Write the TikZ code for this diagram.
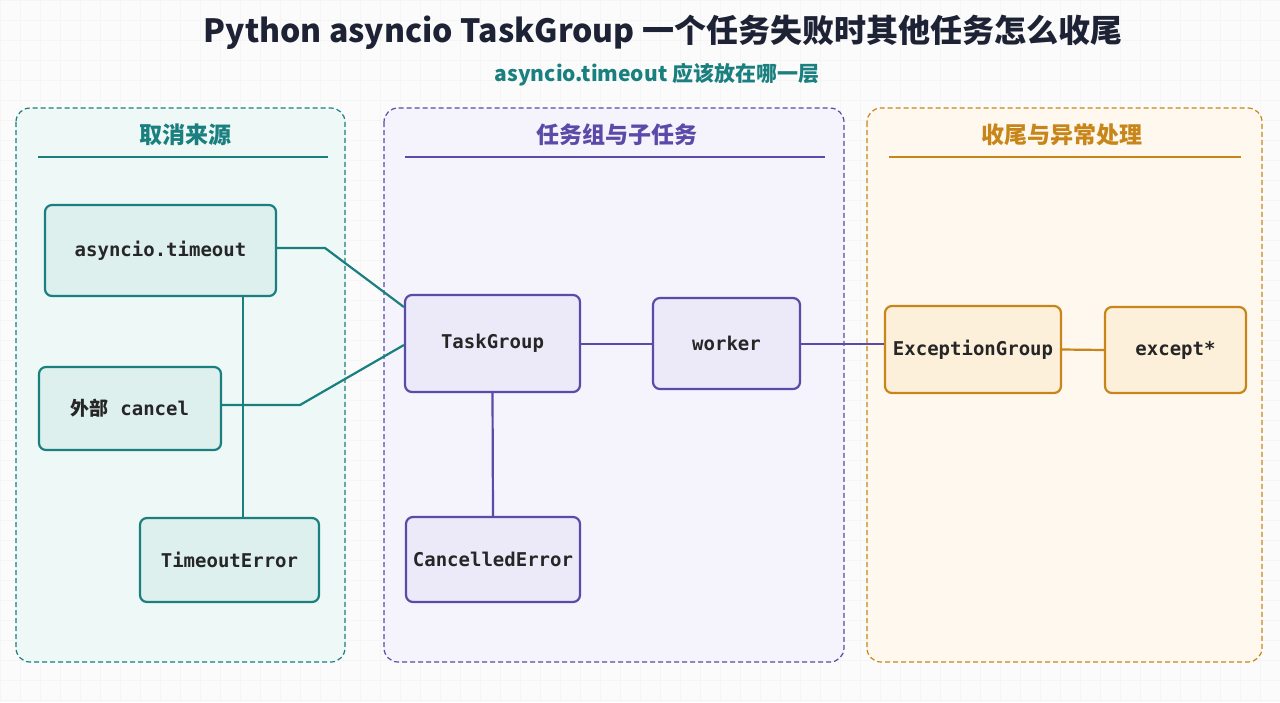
\documentclass[tikz,border=0pt]{standalone}
\usepackage{fontspec}
\setmainfont{Noto Sans CJK SC}
\newfontfamily\cjk{Noto Sans CJK SC}
\newfontfamily\monof{DejaVu Sans Mono}
\definecolor{tl}{HTML}{1A7F7F}\definecolor{tlf}{HTML}{DDF0EE}\definecolor{tlb}{HTML}{EEF8F7}
\definecolor{pu}{HTML}{5B4AA8}\definecolor{puf}{HTML}{ECE9F9}\definecolor{pub}{HTML}{F5F3FC}
\definecolor{og}{HTML}{C8861A}\definecolor{ogf}{HTML}{FDF0DB}\definecolor{ogb}{HTML}{FEF8EE}
\definecolor{ttl}{HTML}{1E2235}
\begin{document}
\begin{tikzpicture}[x=1pt,y=-1pt,
 panel/.style={draw=#1,dash pattern=on 5pt off 3pt,rounded corners=14pt,line width=1.2pt},
 box/.style={draw=#1,rounded corners=7pt,line width=2.2pt,font=\monof\bfseries\fontsize{19}{21}\selectfont,text=black!85},
 head/.style={font=\cjk\bfseries\fontsize{23}{25}\selectfont},
 conn/.style={line width=2.2pt}]
\useasboundingbox (0,0) rectangle (1280,702);
\fill[white!97!gray] (0,0) rectangle (1280,702);
\foreach \i in {0,20,...,1280}\draw[black!4] (\i,0)--(\i,702);
\foreach \j in {0,20,...,700}\draw[black!4] (0,\j)--(1280,\j);
\node[font=\cjk\bfseries\fontsize{32}{34}\selectfont,text=ttl] (title) at (663,32) {Python asyncio TaskGroup 一个任务失败时其他任务怎么收尾};
\node[font=\cjk\bfseries\fontsize{21}{23}\selectfont,text=tl] (sub) at (657,75) {asyncio.timeout 应该放在哪一层};
\draw[panel=tl,fill=tlb] (16,108) rectangle (345,662);
\draw[panel=pu,fill=pub] (384,108) rectangle (844,662);
\draw[panel=og,fill=ogb] (867,108) rectangle (1262,662);
\node[head,text=tl] (h1) at (185,135) {取消来源};
\node[head,text=pu] (h2) at (617,135) {任务组与子任务};
\node[head,text=og] (h3) at (1062,135) {收尾与异常处理};
\draw[tl,line width=1.3pt] (38,157)--(328,157);
\draw[pu,line width=1.3pt] (405,157)--(825,157);
\draw[og,line width=1.3pt] (889,157)--(1241,157);
\node[box=tl,fill=tlf,minimum width=231pt,minimum height=91pt] (at) at (160.5,250.5) {asyncio.timeout};
\node[box=tl,fill=tlf,minimum width=182pt,minimum height=83pt] (ec) at (130,408.5) {{\cjk 外部} cancel};
\node[box=tl,fill=tlf,minimum width=179pt,minimum height=84pt] (te) at (229.5,560) {TimeoutError};
\node[box=pu,fill=puf,minimum width=175pt,minimum height=97pt] (tg) at (492.5,343.5) {TaskGroup};
\node[box=pu,fill=puf,minimum width=147pt,minimum height=91pt] (wk) at (726.5,343.5) {worker};
\node[box=pu,fill=puf,minimum width=174pt,minimum height=85pt] (ce) at (493,559.5) {CancelledError};
\node[box=og,fill=ogf,minimum width=176pt,minimum height=87pt] (eg) at (973,349.5) {ExceptionGroup};
\node[box=og,fill=ogf,minimum width=141pt,minimum height=86pt] (ex) at (1175.5,350) {except*};
\draw[conn,tl] (at.east |- 0,248) -- (325,248) -- (tg.west |- 0,307);
\draw[conn,tl] (ec.east |- 0,405) -- (300,405) -- (tg.west |- 0,345);
\draw[conn,tl] (243,296) -- (243,518);
\draw[conn,pu] (tg.south) -- (ce.north);
\draw[conn,pu] (tg.east |- 0,344) -- (wk.west |- 0,344);
\draw[conn,pu] (wk.east |- 0,344) -- (eg.west |- 0,344);
\draw[conn,og] (eg.east) -- (ex.west);
\end{tikzpicture}
\end{document}
